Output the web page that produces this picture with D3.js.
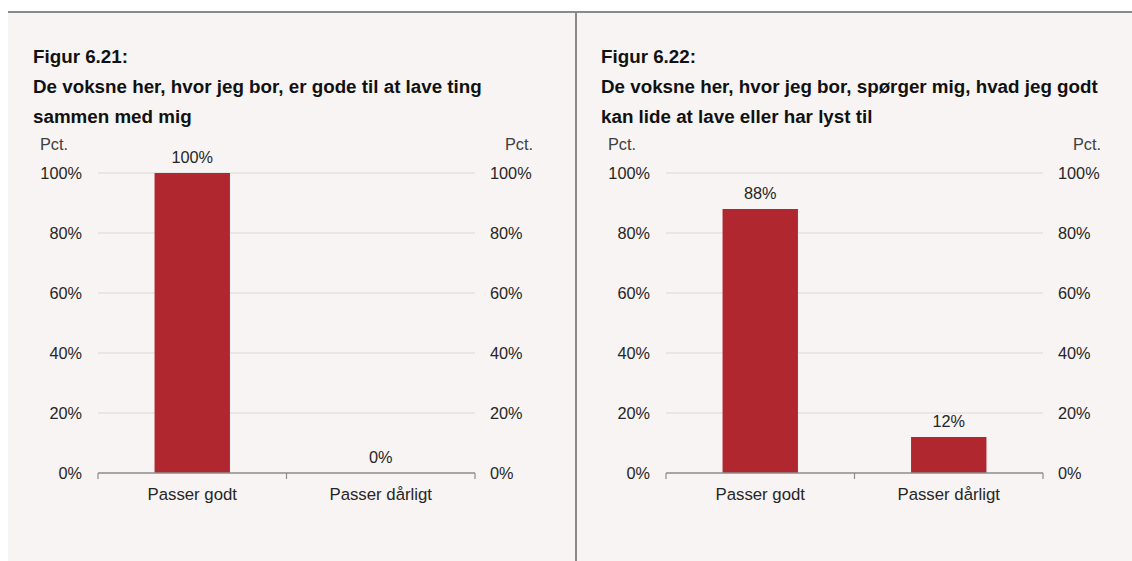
<!DOCTYPE html>
<html><head><meta charset="utf-8">
<script src="https://cdn.jsdelivr.net/npm/d3@7"></script>
<style>
html,body{margin:0;padding:0;background:#fff;}
svg{display:block;font-family:"Liberation Sans",Arial,sans-serif;}
</style></head>
<body><svg id="c" width="1132" height="561"></svg>
<script>
const categories = ["Passer godt", "Passer dårligt"];
const values621 = [100, 0];
const values622 = [88, 12];
const yTicks = [0, 20, 40, 60, 80, 100];
const titles621 = ["Figur 6.21:", "De voksne her, hvor jeg bor, er gode til at lave ting", "sammen med mig"];
const titles622 = ["Figur 6.22:", "De voksne her, hvor jeg bor, spørger mig, hvad jeg godt", "kan lide at lave eller har lyst til"];
const unitLabel = "Pct.";

const svg = d3.select("#c");
const bg = "#f7f4f3", barColor = "#b0272f", gridColor = "#d9d9d9", axisColor = "#8c8c8c", textColor = "#262626";
const small = 16.3, catSize = 16.8, titleSize = 18.8;

svg.append("rect").attr("x", 8).attr("y", 12).attr("width", 1124).attr("height", 549).attr("fill", bg);
svg.append("line").attr("x1", 8).attr("x2", 1132).attr("y1", 12).attr("y2", 12).attr("stroke", "#8a8a8a").attr("stroke-width", 2);
svg.append("line").attr("x1", 576).attr("x2", 576).attr("y1", 12).attr("y2", 561).attr("stroke", "#8a8a8a").attr("stroke-width", 2);

function panel(ox, titles, values, pctRightX) {
  const g = svg.append("g");
  const tx = ox + 25;
  [63, 93, 123].forEach((yy, i) =>
    g.append("text").attr("x", tx).attr("y", yy).attr("font-weight", "bold").attr("font-size", titleSize).attr("fill", "#111").text(titles[i]));

  const x0 = ox + 90, x1 = ox + 467;
  const y = d3.scaleLinear().domain([0, 100]).range([473, 173]);
  const x = d3.scaleBand().domain(categories).range([x0, x1]).paddingInner(0.6).paddingOuter(0.3);

  g.append("text").attr("x", ox + 32).attr("y", 150).attr("font-size", small).attr("fill", "#404040").text(unitLabel);
  g.append("text").attr("x", pctRightX).attr("y", 150).attr("font-size", small).attr("fill", "#404040").attr("text-anchor", "end").text(unitLabel);

  g.selectAll(".grid").data(yTicks.filter(d => d > 0)).join("line")
    .attr("x1", x0).attr("x2", x1).attr("y1", d => y(d)).attr("y2", d => y(d))
    .attr("stroke", gridColor).attr("stroke-width", 1.2);

  const fmt = d => d + "%";
  const yl = d3.axisLeft(y).tickValues(yTicks).tickFormat(fmt).tickSize(0).tickPadding(16);
  const gl = g.append("g").attr("transform", `translate(${x0},0)`).call(yl);
  gl.select(".domain").remove();
  gl.selectAll("text").attr("font-size", small).attr("fill", textColor).attr("font-family", "Liberation Sans, Arial, sans-serif");
  const yr = d3.axisRight(y).tickValues(yTicks).tickFormat(fmt).tickSize(0).tickPadding(15);
  const gr = g.append("g").attr("transform", `translate(${x1},0)`).call(yr);
  gr.select(".domain").remove();
  gr.selectAll("text").attr("font-size", small).attr("fill", textColor).attr("font-family", "Liberation Sans, Arial, sans-serif");

  g.selectAll(".bar").data(values).join("rect")
    .attr("x", (d, i) => x(categories[i])).attr("width", x.bandwidth())
    .attr("y", d => y(d)).attr("height", d => y(0) - y(d)).attr("fill", barColor);

  g.selectAll(".vl").data(values).join("text")
    .attr("x", (d, i) => x(categories[i]) + x.bandwidth() / 2).attr("y", d => y(d) - 10)
    .attr("text-anchor", "middle").attr("font-size", small).attr("fill", textColor).text(d => d + "%");

  g.append("line").attr("x1", x0).attr("x2", x1).attr("y1", y(0)).attr("y2", y(0)).attr("stroke", axisColor).attr("stroke-width", 1.5);
  const xm = (x0 + x1) / 2;
  [x0, xm, x1].forEach(v => g.append("line").attr("x1", v).attr("x2", v).attr("y1", y(0)).attr("y2", y(0) + 6).attr("stroke", axisColor).attr("stroke-width", 1.2));
  g.selectAll(".cl").data(categories).join("text")
    .attr("x", d => x(d) + x.bandwidth() / 2).attr("y", 500)
    .attr("text-anchor", "middle").attr("font-size", catSize).attr("fill", textColor).text(d => d);
}

panel(8, titles621, values621, 533);
panel(576, titles622, values622, 1101);
</script></body></html>
